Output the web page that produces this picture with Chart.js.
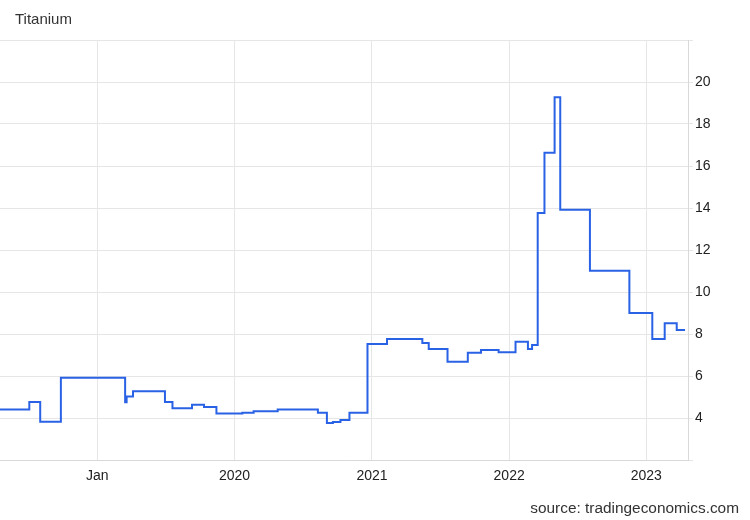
<!DOCTYPE html>
<html>
<head>
<meta charset="utf-8">
<script src="https://cdn.jsdelivr.net/npm/chart.js@4.4.0/dist/chart.umd.min.js"></script>
<style>
  html, body { margin: 0; padding: 0; background: #fff; }
  #wrap { position: relative; width: 750px; height: 520px; }
  #title { position: absolute; left: 15px; top: 10px; font: 15px "Liberation Sans", Arial, sans-serif; color: #333; }
  #source { position: absolute; right: 11px; top: 499px; font: 15.4px "Liberation Sans", Arial, sans-serif; color: #333; }
</style>
</head>
<body>
<div id="wrap">
  <canvas id="myChart" width="750" height="520"></canvas>
  <div id="title">Titanium</div>
  <div id="source">source: tradingeconomics.com</div>
</div>
<script>
// price change dates and the new level from that date on
const dates = [
  '2018-04-17', '2018-07-04', '2018-08-02', '2018-09-26', '2019-03-16', '2019-03-20',
  '2019-04-06', '2019-06-30', '2019-07-20', '2019-09-10', '2019-10-12', '2019-11-14',
  '2020-01-22', '2020-02-21', '2020-04-25', '2020-08-10', '2020-09-03', '2020-09-19',
  '2020-10-09', '2020-11-02', '2020-12-20', '2021-02-10', '2021-05-15', '2021-06-01',
  '2021-07-21', '2021-09-13', '2021-10-18', '2021-12-04', '2022-01-18', '2022-02-20',
  '2022-03-03', '2022-03-18', '2022-04-05', '2022-05-02', '2022-05-17', '2022-08-04',
  '2022-11-17', '2023-01-17', '2023-02-19', '2023-03-23', '2023-04-14'
];
const prices = [
  4.41, 4.76, 3.82, 5.92, 4.75, 5.02,
  5.27, 4.76, 4.46, 4.63, 4.52, 4.21,
  4.25, 4.32, 4.40, 4.25, 3.76, 3.81,
  3.90, 4.25, 7.52, 7.76, 7.57, 7.29,
  6.68, 7.11, 7.24, 7.13, 7.63, 7.29,
  7.48, 13.76, 16.63, 19.27, 13.92, 11.01,
  9.00, 7.76, 8.51, 8.19, 8.19
];
const xTickDates = ['2019-01-01', '2020-01-01', '2021-01-01', '2022-01-01', '2023-01-01'];
const xTickLabels = ['Jan', '2020', '2021', '2022', '2023'];
const xMin = '2018-04-17';
const xMax = '2023-04-22';

const points = dates.map((d, i) => ({ x: Date.parse(d), y: prices[i] }));
const tickValues = xTickDates.map(d => Date.parse(d));

const ctx = document.getElementById('myChart').getContext('2d');
const myChart = new Chart(ctx, {
  type: 'line',
  data: {
    datasets: [{
      label: 'Titanium',
      data: points,
      stepped: 'before',
      borderColor: '#2a62e6',
      borderWidth: 2,
      pointRadius: 0,
      fill: false
    }]
  },
  options: {
    responsive: false,
    animation: false,
    layout: { padding: { top: 40, left: 0, right: 0, bottom: 0 } },
    plugins: {
      legend: { display: false },
      tooltip: { enabled: false }
    },
    scales: {
      x: {
        type: 'linear',
        min: Date.parse(xMin),
        max: Date.parse(xMax),
        afterBuildTicks: function (scale) {
          scale.ticks = tickValues.map(v => ({ value: v }));
        },
        afterFit: function (scale) { scale.height = 60; },
        grid: { color: '#e6e6e6', drawTicks: false },
        border: { color: '#d9d9d9' },
        ticks: {
          padding: 8,
          color: '#222',
          font: { family: '"Liberation Sans", Arial, sans-serif', size: 14 },
          callback: function (value) {
            const i = tickValues.indexOf(value);
            return i >= 0 ? xTickLabels[i] : '';
          }
        }
      },
      y: {
        position: 'right',
        min: 2,
        max: 22,
        afterFit: function (scale) { scale.width = 62; },
        grid: { color: '#e6e6e6', tickLength: 5 },
        border: { color: '#d9d9d9' },
        ticks: {
          stepSize: 2,
          padding: 2,
          color: '#222',
          font: { family: '"Liberation Sans", Arial, sans-serif', size: 14 },
          callback: function (value) {
            return (value === 2 || value === 22) ? '' : value;
          }
        }
      }
    }
  }
});
</script>
</body>
</html>
